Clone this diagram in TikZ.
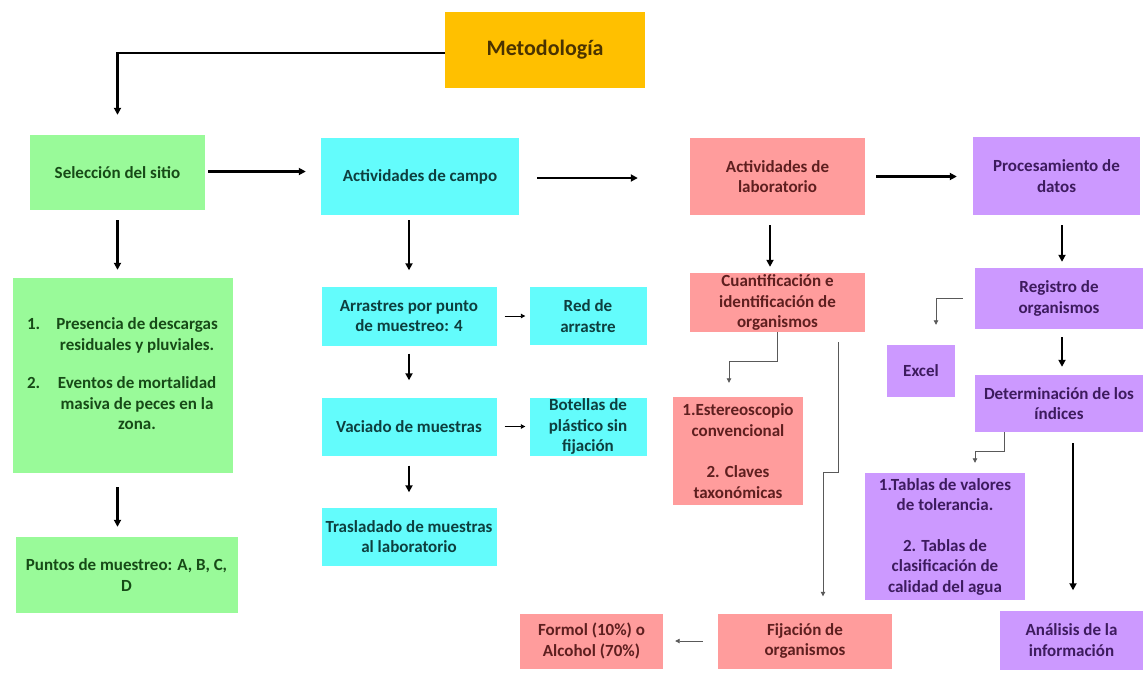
\documentclass[tikz,border=0pt]{standalone}
\usepackage{fontspec}
\setmainfont{Carlito}
\usetikzlibrary{arrows.meta}
\definecolor{cMet}{HTML}{FFC000}
\definecolor{cGreen}{HTML}{99FA99}
\definecolor{cCyan}{HTML}{63FCFC}
\definecolor{cRed}{HTML}{FF9C9C}
\definecolor{cPurp}{HTML}{CC99FF}
\definecolor{tMet}{HTML}{4A3300}
\definecolor{tGreen}{HTML}{174A17}
\definecolor{tCyan}{HTML}{0E3F3F}
\definecolor{tRed}{HTML}{5E1F1F}
\definecolor{tPurp}{HTML}{3D1B5E}
\tikzset{
  box/.style={draw=none, inner sep=0pt, align=center, font=\fontsize{17}{20.5}\selectfont\bfseries},
  metbox/.style={box, fill=cMet, text=tMet, font=\fontsize{22}{26}\selectfont\bfseries},
  gbox/.style={box, fill=cGreen, text=tGreen},
  cbox/.style={box, fill=cCyan, text=tCyan},
  rbox/.style={box, fill=cRed, text=tRed},
  pbox/.style={box, fill=cPurp, text=tPurp},
  bigarrow/.style={line width=2.2pt, -{Triangle[length=7pt,width=7pt]}},
  smallarrow/.style={line width=0.9pt, -{Triangle[length=4.5pt,width=4.5pt]}},
  thinlink/.style={line width=0.8pt, draw=black!65, -{Triangle[length=4.5pt,width=4.5pt]}},
}
\begin{document}
\begin{tikzpicture}[x=1pt,y=-1pt]
\useasboundingbox (0,0) rectangle (1143,673);

% nodes
\node[metbox, minimum width=200, minimum height=76] (met) at (545,50) {Metodología};
\node[gbox, minimum width=175, minimum height=75] (sel) at (117.5,172.5) {Selección del sitio};
\node[cbox, minimum width=198, minimum height=77] (campo) at (420,176.5) {Actividades de campo};
\node[rbox, minimum width=175, minimum height=77] (lab) at (777.5,176.5) {Actividades de\\laboratorio};
\node[pbox, minimum width=167, minimum height=78] (proc) at (1056.5,176) {Procesamiento de\\datos};

\node[gbox, minimum width=220, minimum height=195] (crit) at (122.5,375.5) {%
\begin{tabular}{@{}l@{\hspace{16pt}}c@{}}
1. & Presencia de descargas\\
   & residuales y pluviales.\\[18pt]
2. & Eventos de mortalidad\\
   & masiva de peces en la\\
   & zona.
\end{tabular}};
\node[gbox, minimum width=222, minimum height=76] (ptos) at (126.5,575) {Puntos de muestreo: A, B, C,\\D};

\node[cbox, minimum width=175, minimum height=59] (arr) at (409,316) {Arrastres por punto\\de muestreo: 4};
\node[cbox, minimum width=117, minimum height=58] (red) at (588,316) {Red de\\arrastre};
\node[cbox, minimum width=175, minimum height=58] (vac) at (409,426.5) {Vaciado de muestras};
\node[cbox, minimum width=117, minimum height=58] (bot) at (588,426.5) {Botellas de\\plástico sin\\fijación};
\node[cbox, minimum width=175, minimum height=58] (tras) at (409,536.5) {Trasladado de muestras\\al laboratorio};

\node[rbox, minimum width=175, minimum height=59] (cuan) at (777.5,302.5) {Cuantificación e\\identificación de\\organismos};
\node[rbox, minimum width=130, minimum height=108] (est) at (738,451) {1.Estereoscopio\\convencional\\[21pt]2. Claves\\taxonómicas};
\node[rbox, minimum width=174, minimum height=55] (fij) at (805,641) {Fijación de\\organismos};
\node[rbox, minimum width=143, minimum height=55] (formol) at (591.5,641) {Formol (10\%) o\\Alcohol (70\%)};

\node[pbox, minimum width=168, minimum height=61] (reg) at (1059,298.5) {Registro de\\organismos};
\node[pbox, minimum width=68, minimum height=52] (excel) at (921,371) {Excel};
\node[pbox, minimum width=168, minimum height=57] (det) at (1059,403.5) {Determinación de los\\índices};
\node[pbox, minimum width=160, minimum height=127] (tab) at (945,536.5) {1.Tablas de valores\\de tolerancia.\\[20pt]2. Tablas de\\clasificación de\\calidad del agua};
\node[pbox, minimum width=143, minimum height=59] (ana) at (1071.5,640) {Análisis de la\\información};

% main arrows
\draw[bigarrow, shorten >=20pt] ([yshift=-3pt]met.west) -| (sel.north);
\draw[bigarrow, shorten <=3pt, shorten >=15pt] ([yshift=1pt]sel.east) -- ([yshift=1pt]sel.east -| campo.west);
\draw[bigarrow, shorten <=18pt, shorten >=52pt] ([yshift=-1.5pt]campo.east) -- ([yshift=-1.5pt]campo.east -| lab.west);
\draw[bigarrow, shorten <=11pt, shorten >=16pt] (lab.east) -- (lab.east -| proc.west);

\draw[bigarrow, shorten <=10pt, shorten >=8pt] (sel.south) -- (sel.south |- crit.north);
\draw[bigarrow, shorten <=14pt, shorten >=10pt] (crit.south -| sel.south) -- (sel.south |- ptos.north);

\draw[bigarrow, shorten <=5pt, shorten >=16pt] (campo.south -| arr.north) -- (arr.north);
\draw[bigarrow, shorten <=8pt, shorten >=17pt] (arr.south) -- (vac.north);
\draw[bigarrow, shorten <=10pt, shorten >=15pt] (vac.south) -- (tras.north);
\draw[smallarrow, shorten <=8pt, shorten >=4pt] (arr.east) -- (arr.east -| red.west);
\draw[smallarrow, shorten <=8pt, shorten >=4pt] (vac.east) -- (vac.east -| bot.west);

\draw[bigarrow, shorten <=10pt, shorten >=6pt] ([xshift=-7.5pt]lab.south) -- ([xshift=-7.5pt]lab.south |- cuan.north);
\draw[bigarrow, shorten <=10pt, shorten >=6pt] ([xshift=5.5pt]proc.south) -- ([xshift=5.5pt]proc.south |- reg.north);
\draw[bigarrow, shorten <=8pt, shorten >=8pt] ([xshift=3pt]reg.south) -- ([xshift=3pt]reg.south |- det.north);
\draw[bigarrow, shorten <=11pt, shorten >=20pt] ([xshift=14pt]det.south) -- ([xshift=14pt]det.south |- ana.north);

% thin links
\draw[thinlink, shorten >=14pt] (cuan.south) -- ++(0,29) -| ([xshift=-9pt]est.north);
\draw[thinlink, shorten >=17pt] ([xshift=60.5pt,yshift=-10pt]cuan.south) -- ++(0,130) -| ([xshift=18pt]fij.north);
\draw[thinlink, shorten >=20pt] ([xshift=-12pt]reg.west) -| ([xshift=15pt]excel.north);
\draw[thinlink, shorten >=10pt] ([xshift=-55pt]det.south) -- ++(0,19) -| ([xshift=30pt]tab.north);
\draw[thinlink, shorten <=15pt, shorten >=12pt] (fij.west) -- (formol.east);
\end{tikzpicture}
\end{document}
